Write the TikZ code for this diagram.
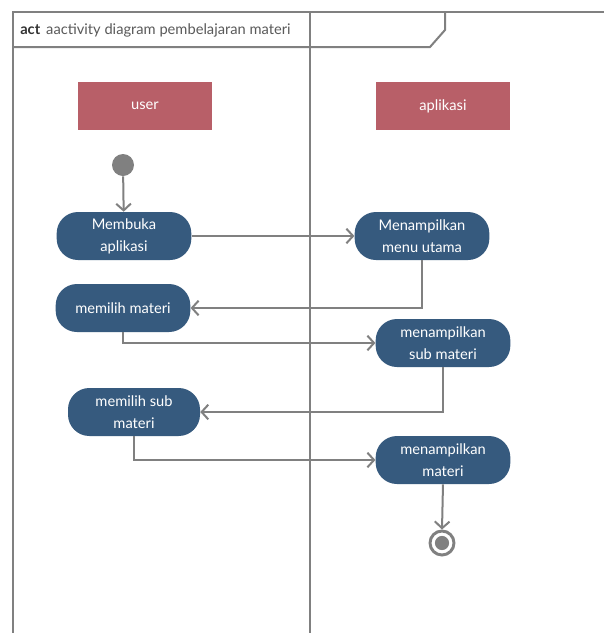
\documentclass[tikz,border=0pt]{standalone}
\usepackage{fontspec}
\setmainfont{Lato}
\usetikzlibrary{arrows.meta}
\definecolor{lanefill}{HTML}{B85F68}
\definecolor{actfill}{HTML}{365A7E}
\definecolor{linegray}{HTML}{808080}
\tikzset{
  frame/.style={draw=linegray, line width=1.5pt},
  lanebox/.style={draw=none, fill=lanefill, minimum width=100.5pt, minimum height=36pt, inner sep=0pt, text=white, font=\fontsize{11}{13}\selectfont},
  actbox/.style={draw=none, fill=actfill, rounded corners=16pt, minimum width=101pt, minimum height=36pt, inner sep=0pt, text=white, align=center, font=\fontsize{11}{16.5}\selectfont},
  flow/.style={draw=linegray, line width=1.5pt, -{Straight Barb[length=5pt, width=11pt, line width=1.5pt]}},
}
\begin{document}
\begin{tikzpicture}[x=0.75pt, y=-0.75pt]
\useasboundingbox (0,0) rectangle (604,633);
\fill[white] (0,0) rectangle (604,633);
% frame
\draw[frame] (13,633) -- (13,12) -- (604,12);
\draw[frame] (310,12) -- (310,633);
\draw[frame] (13,47) -- (430,47) -- (445,30) -- (445,12);
\node[anchor=west, inner sep=0pt, font=\fontsize{11}{13}\selectfont] (title) at (20,30) {\textcolor[HTML]{333333}{\textbf{act}}\hspace{4.5pt}\textcolor[HTML]{5A5A5A}{aactivity diagram pembelajaran materi}};
% lanes
\node[lanebox] (user) at (145,106) {user};
\node[lanebox] (app) at (443,106) {aplikasi};
% start
\node[circle, fill=linegray, minimum size=16.5pt, inner sep=0pt] (init) at (123,165) {};
% actions
\node[actbox] (buka) at (124,236) {Membuka\\aplikasi};
\node[actbox] (menu) at (422,236) {Menampilkan\\menu utama};
\node[actbox] (pilih) at (123,308) {memilih materi};
\node[actbox] (sub) at (443,343) {menampilkan\\sub materi};
\node[actbox, minimum width=99pt] (pilihsub) at (134,412) {memilih sub\\materi};
\node[actbox] (tampil) at (443,460) {menampilkan\\materi};
% final
\node[circle, draw=linegray, line width=2.2pt, fill=white, minimum size=18pt, inner sep=0pt] (final) at (442,543) {};
\fill[linegray] (final.center) circle (5.3pt);
% flows
\draw[flow] (init) -- (buka);
\draw[flow] (buka) -- (menu);
\draw[flow] (menu.south) |- (pilih.east);
\draw[flow] (pilih.south) |- (sub.west);
\draw[flow] (sub.south) |- (pilihsub.east);
\draw[flow] (pilihsub.south) |- (tampil.west);
\draw[flow] (tampil.south) -- (final.north);
\end{tikzpicture}
\end{document}
